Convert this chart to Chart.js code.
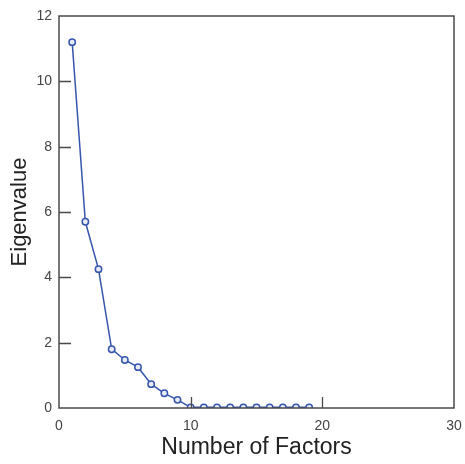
<!DOCTYPE html>
<html>
<head>
<meta charset="utf-8">
<title>Scree plot</title>
<script src="https://cdn.jsdelivr.net/npm/chart.js@4.4.0/dist/chart.umd.min.js"></script>
<style>
    html, body { margin: 0; padding: 0; background: #ffffff; }
    .chart-box { position: relative; width: 465px; height: 464px; }
</style>
</head>
<body>
<div class="chart-box"><canvas id="scree"></canvas></div>
<script>
// Factor numbers and their eigenvalues
const factors = [1, 2, 3, 4, 5, 6, 7, 8, 9, 10, 11, 12, 13, 14, 15, 16, 17, 18, 19];
const eigenvalues = [11.2, 5.7, 4.25, 1.8, 1.47, 1.25, 0.73, 0.45, 0.25, 0.02, 0.02, 0.02, 0.02, 0.02, 0.02, 0.02, 0.02, 0.02, 0.02];

// Axis ticks
const xTicks = [0, 10, 20, 30];
const yTicks = [0, 2, 4, 6, 8, 10, 12];

(function() {
    'use strict';

    const axisColor = '#4a4a4a';
    const lineColor = '#3656ae';

    /**
     * Draws the box round the plot and the short inward tick marks
     */
    const framePlugin = {
        id: 'frame',
        afterDatasetsDraw: function(chart) {
            const ctx = chart.ctx;
            const area = chart.chartArea;
            const xs = chart.scales.x;
            const ys = chart.scales.y;
            ctx.save();
            ctx.strokeStyle = axisColor;
            ctx.lineWidth = 1.5;
            ctx.strokeRect(area.left, area.top, area.right - area.left, area.bottom - area.top);

            ctx.lineWidth = 1.3;
            ctx.beginPath();
            yTicks.slice(1, -1).forEach(function(v) {
                const y = Math.round(ys.getPixelForValue(v)) + 0.5;
                ctx.moveTo(area.left, y);
                ctx.lineTo(area.left + 12, y);
            });
            xTicks.slice(1, -1).forEach(function(v) {
                const x = Math.round(xs.getPixelForValue(v)) + 0.5;
                ctx.moveTo(x, area.bottom);
                ctx.lineTo(x, area.bottom - 11);
            });
            ctx.stroke();
            ctx.restore();
        }
    };

    function buildData() {
        return {
            datasets: [{
                data: factors.map(function(f, i) { return { x: f, y: eigenvalues[i] }; }),
                borderColor: lineColor,
                borderWidth: 1.5,
                pointStyle: 'circle',
                pointRadius: 3.2,
                pointBorderWidth: 1.5,
                pointBorderColor: lineColor,
                pointBackgroundColor: '#e6ebf6',
                tension: 0,
                fill: false
            }]
        };
    }

    function buildOptions() {
        return {
            responsive: true,
            maintainAspectRatio: false,
            animation: false,
            layout: { padding: { top: 16, right: 11, left: 0, bottom: 0 } },
            plugins: {
                legend: { display: false },
                tooltip: { enabled: false }
            },
            scales: {
                x: {
                    type: 'linear',
                    min: 0,
                    max: 30,
                    afterFit: function(scale) {
                        scale.height = 56;
                        scale.paddingLeft = 0;
                        scale.paddingRight = 0;
                    },
                    afterBuildTicks: function(scale) {
                        scale.ticks = xTicks.map(function(v) { return { value: v }; });
                    },
                    grid: { display: false, drawTicks: false },
                    border: { display: false },
                    ticks: {
                        padding: 10,
                        color: '#444444',
                        font: { family: 'Liberation Sans, Arial, sans-serif', size: 14 }
                    },
                    title: {
                        display: true,
                        text: 'Number of Factors',
                        color: '#222222',
                        padding: { top: 0, bottom: 3 },
                        font: { family: 'Liberation Sans, Arial, sans-serif', size: 23 }
                    }
                },
                y: {
                    type: 'linear',
                    min: 0,
                    max: 12,
                    afterFit: function(scale) {
                        scale.width = 59;
                        scale.paddingTop = 0;
                        scale.paddingBottom = 0;
                    },
                    afterBuildTicks: function(scale) {
                        scale.ticks = yTicks.map(function(v) { return { value: v }; });
                    },
                    grid: { display: false, drawTicks: false },
                    border: { display: false },
                    ticks: {
                        padding: 7,
                        color: '#444444',
                        font: { family: 'Liberation Sans, Arial, sans-serif', size: 14 }
                    },
                    title: {
                        display: true,
                        text: 'Eigenvalue',
                        color: '#222222',
                        padding: { top: 7, bottom: 0 },
                        font: { family: 'Liberation Sans, Arial, sans-serif', size: 22 }
                    }
                }
            }
        };
    }

    new Chart(document.getElementById('scree').getContext('2d'), {
        type: 'line',
        data: buildData(),
        options: buildOptions(),
        plugins: [framePlugin]
    });
})();
</script>
</body>
</html>
